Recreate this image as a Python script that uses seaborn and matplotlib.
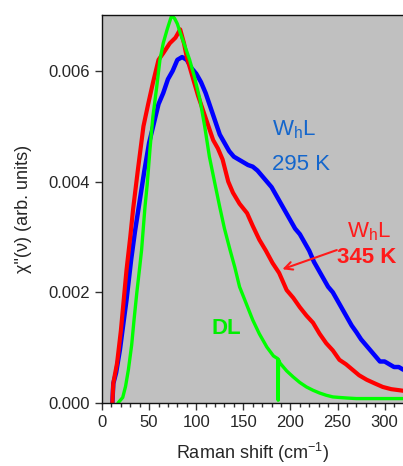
import matplotlib

matplotlib.use("Agg")
import matplotlib.pyplot as plt
import numpy as np
import pandas as pd
import seaborn as sns
from matplotlib.ticker import MultipleLocator, FormatStrFormatter

# values (x in cm^-1, y in units of 1e-3)
blue_x = [11, 12, 15, 19, 22, 26, 31, 35, 40, 45, 50, 55, 60, 65, 70, 75, 80, 85, 90, 95,
          100, 105, 110, 115, 120, 125, 130, 135, 140, 145, 150, 155, 160, 165, 170, 175, 180,
          185, 190, 195, 200, 205, 210, 215, 220, 225, 230, 235, 240, 245, 250, 255, 260, 265,
          270, 275, 280, 285, 290, 295, 300, 305, 310, 315, 320]
blue_y = [0.0, 0.35, 0.55, 0.96, 1.35, 1.86, 2.6, 3.1, 3.65, 4.2, 4.7, 5.05, 5.4, 5.6, 5.85,
          6.0, 6.2, 6.25, 6.2, 6.05, 5.95, 5.8, 5.6, 5.35, 5.1, 4.85, 4.7, 4.55, 4.45, 4.4,
          4.35, 4.3, 4.27, 4.2, 4.1, 4.0, 3.9, 3.75, 3.6, 3.45, 3.3, 3.15, 3.05, 2.9, 2.75,
          2.55, 2.4, 2.25, 2.1, 2.0, 1.85, 1.7, 1.55, 1.4, 1.28, 1.15, 1.05, 0.95, 0.85, 0.75,
          0.75, 0.7, 0.65, 0.65, 0.6]

red_x = [11, 12, 16, 20, 26, 30, 33, 38, 44, 49, 54, 60, 65, 72, 78, 83, 87, 90, 97, 102,
         107, 113, 118, 123, 128, 134, 139, 146, 154, 160, 167, 174, 181, 188, 196, 203, 210,
         217, 224, 231, 238, 245, 252, 259, 266, 273, 281, 290, 298, 307, 316, 320]
red_y = [0.0, 0.36, 0.72, 1.3, 2.4, 3.0, 3.5, 4.2, 5.0, 5.4, 5.78, 6.2, 6.32, 6.5, 6.6, 6.75,
         6.5, 6.25, 5.84, 5.55, 5.3, 5.0, 4.75, 4.6, 4.4, 4.0, 3.8, 3.6, 3.43, 3.2, 2.95, 2.75,
         2.53, 2.35, 2.04, 1.9, 1.73, 1.58, 1.45, 1.25, 1.08, 0.95, 0.78, 0.7, 0.6, 0.5, 0.42,
         0.35, 0.29, 0.25, 0.23, 0.22]

green_x = [17, 22, 25, 28, 31.5, 34, 37, 40, 42, 45.6, 48, 51, 54, 58, 61.5, 65, 69, 72, 74,
           77, 80, 83, 88, 93, 98, 104, 109, 114, 120, 125, 130, 136, 141, 146, 153, 160, 167,
           175, 182, 186.6, 187, 187.4, 189, 196, 203, 210, 217, 224, 231, 238, 245, 252, 260,
           270, 280, 290, 300, 310, 320]
green_y = [0.0, 0.1, 0.3, 0.6, 1.05, 1.5, 2.0, 2.45, 2.76, 3.54, 3.95, 4.6, 5.17, 5.7, 6.2,
           6.5, 6.74, 6.9, 7.0, 6.95, 6.85, 6.69, 6.45, 6.2, 5.9, 5.48, 5.0, 4.45, 3.95, 3.54,
           3.15, 2.76, 2.45, 2.1, 1.8, 1.5, 1.25, 1.01, 0.85, 0.8, 0.05, 0.78, 0.72, 0.58, 0.47,
           0.37, 0.29, 0.23, 0.18, 0.14, 0.11, 0.1, 0.09, 0.08, 0.08, 0.08, 0.08, 0.08, 0.08]

series_names = ["WhL 295 K", "WhL 345 K", "DL"]
series_colors = ["#0000ff", "#ff0000", "#00ff00"]
series_widths = [3.2, 3.0, 2.4]


def main():
    sns.set_style("ticks")
    plt.rcParams["font.family"] = ["Liberation Sans", "DejaVu Sans"]
    plt.rcParams["mathtext.default"] = "regular"

    frames = []
    for name, xs, ys in zip(series_names, [blue_x, red_x, green_x], [blue_y, red_y, green_y]):
        frames.append(pd.DataFrame({"shift": xs, "chi": np.array(ys) * 1e-3, "sample": name}))
    df = pd.concat(frames, ignore_index=True)

    fig = plt.figure(figsize=(4.03, 4.66), dpi=100)
    ax = fig.add_axes([102 / 403, 1 - 403 / 466, 1 - 102 / 403, 388 / 466])
    ax.set_facecolor("#c0c0c0")

    for name, color, lw in zip(series_names, series_colors, series_widths):
        sns.lineplot(data=df[df["sample"] == name], x="shift", y="chi", color=color,
                     linewidth=lw, estimator=None, sort=True, ax=ax)

    ax.set_xlim(0, 319.5)
    ax.set_ylim(0, 0.00701)
    ax.xaxis.set_major_locator(MultipleLocator(50))
    ax.xaxis.set_minor_locator(MultipleLocator(10))
    ax.yaxis.set_major_locator(MultipleLocator(0.002))
    ax.yaxis.set_major_formatter(FormatStrFormatter("%.3f"))
    ax.tick_params(axis="both", which="major", direction="out", length=5, width=1,
                   labelsize=12, color="#333333")
    ax.tick_params(axis="x", which="minor", direction="out", length=3, width=1, color="#333333")
    ax.spines["right"].set_visible(False)
    for s in ["left", "bottom", "top"]:
        ax.spines[s].set_linewidth(1)
        ax.spines[s].set_color("#111111")

    ax.set_xlabel("Raman shift (cm$^{-1}$)", fontsize=13, labelpad=8)
    ax.set_ylabel('χ"(ν) (arb. units)', fontsize=13, labelpad=12)

    ax.text(180, 0.00493, "W$_h$L", color="#1466cc", fontsize=16, va="center", ha="left")
    ax.text(180, 0.00430, "295 K", color="#1466cc", fontsize=16, va="center", ha="left")
    ax.text(260, 0.00309, "W$_h$L", color="#ff1a1a", fontsize=16, va="center", ha="left")
    ax.text(249, 0.00262, "345 K", color="#ff1a1a", fontsize=16, va="center", ha="left",
            fontweight="bold")
    ax.text(116.5, 0.00134, "DL", color="#00ee00", fontsize=16, va="center", ha="left",
            fontweight="bold")
    ax.annotate("", xy=(188.7, 0.0024), xytext=(252, 0.00278),
                arrowprops=dict(arrowstyle="->", color="#ff1a1a", lw=1.5,
                                mutation_scale=14))

    fig.savefig("out.png", dpi=100)
    plt.close(fig)


if __name__ == "__main__":
    main()
